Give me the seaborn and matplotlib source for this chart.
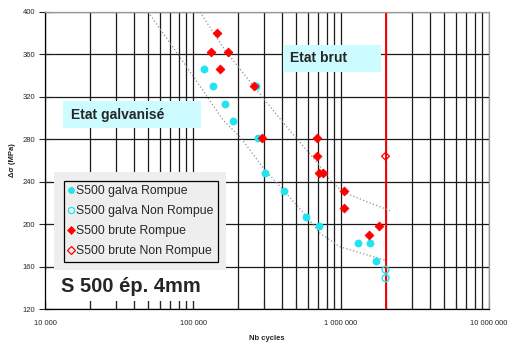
import matplotlib
matplotlib.use("Agg")
import matplotlib.pyplot as plt
from matplotlib.patches import Rectangle
from matplotlib.lines import Line2D
import seaborn as sns
import pandas as pd

# ---------------- data ----------------
galva_rompue_N = [118000, 135800, 165000, 186000, 265000, 276000, 305000, 412000,
                  580000, 710000, 1297000, 1571000, 1715000]
galva_rompue_S = [346, 330, 313, 297.5, 330, 281, 248, 231, 206.5, 198, 182, 182, 165.5]

galva_nonrompue_N = [2000000, 2000000]
galva_nonrompue_S = [157, 149]

brute_rompue_N = [144500, 132300, 171600, 152900, 257000, 294000, 685000, 685000,
                  710000, 751000, 1052000, 1052000, 1815000, 1553000]
brute_rompue_S = [380, 362, 362, 346, 330, 281, 281, 264.5, 248, 248, 231, 215, 198, 190]

brute_nonrompue_N = [2000000]
brute_nonrompue_S = [264]

# trend curves
curve_brut_N = [111400, 164400, 254000, 405000, 685000, 843000, 1032000, 1493000, 2143000]
curve_brut_S = [400, 364, 331, 296, 258.6, 241.6, 230.3, 221.2, 212.7]
curve_galva_N = [49700, 90600, 159500, 208000, 306000, 407000, 586000, 721000, 984000, 1652000, 1981000]
curve_galva_S = [400, 348.4, 298.2, 282.2, 251, 232.2, 207, 191.4, 178.7, 169.3, 166.1]

limit_N = 2000000

series_labels = ["S500 galva Rompue", "S500 galva Non Rompue",
                 "S500 brute Rompue", "S500 brute Non Rompue"]
x_ticks = [1e4, 1e5, 1e6, 1e7]
x_ticklabels = ["10 000", "100 000", "1 000 000", "10 000 000"]
y_ticks = [120, 160, 200, 240, 280, 320, 360, 400]
x_label = "Nb cycles"
y_label = "Δσ (MPa)"
title_galva = "Etat galvanisé"
title_brut = "Etat brut"
caption = "S 500 ép. 4mm"

# ---------------- figure ----------------
sns.set_style("white")
plt.rcParams["font.family"] = ["Liberation Sans", "DejaVu Sans"]

W, H = 510, 343
fig = plt.figure(figsize=(W / 100, H / 100), dpi=100)
L, R, T, B = 45, 489, 12, 309
ax = fig.add_axes([L / W, 1 - B / H, (R - L) / W, (B - T) / H])

def ax_x(px):
    return (px - L) / (R - L)

def ax_y(py):
    return (B - py) / (B - T)

ax.set_xscale("log")
ax.set_xlim(1e4, 1e7)
ax.set_ylim(120, 400)
ax.set_axisbelow(True)

cyan = "#22e4ee"
red = "#ff0000"

df_gr = pd.DataFrame({"N": galva_rompue_N, "S": galva_rompue_S})
df_gn = pd.DataFrame({"N": galva_nonrompue_N, "S": galva_nonrompue_S})
df_br = pd.DataFrame({"N": brute_rompue_N, "S": brute_rompue_S})
df_bn = pd.DataFrame({"N": brute_nonrompue_N, "S": brute_nonrompue_S})
df_cb = pd.DataFrame({"N": curve_brut_N, "S": curve_brut_S})
df_cg = pd.DataFrame({"N": curve_galva_N, "S": curve_galva_S})

# red limit line
ax.axvline(limit_N, color=red, lw=1.4, zorder=2)

# dotted trend curves
sns.lineplot(data=df_cb, x="N", y="S", ax=ax, sort=False, estimator=None,
             color="#909090", lw=0.9, linestyle=(0, (1, 1.8)), zorder=2)
sns.lineplot(data=df_cg, x="N", y="S", ax=ax, sort=False, estimator=None,
             color="#909090", lw=0.9, linestyle=(0, (1, 1.8)), zorder=2)

# points
sns.scatterplot(data=df_gr, x="N", y="S", ax=ax, marker="o", s=32, color=cyan,
                edgecolor=cyan, linewidth=0, zorder=3)
sns.scatterplot(data=df_gn, x="N", y="S", ax=ax, marker="o", s=24, facecolor="none",
                edgecolor=cyan, linewidth=1.0, zorder=3)
sns.scatterplot(data=df_br, x="N", y="S", ax=ax, marker="D", s=20, color=red,
                edgecolor=red, linewidth=0.6, zorder=4)
sns.scatterplot(data=df_bn, x="N", y="S", ax=ax, marker="D", s=16, facecolor="none",
                edgecolor=red, linewidth=0.9, zorder=4)

# grid
ax.grid(True, which="major", axis="both", color="#1a1a1a", lw=0.9)
ax.grid(True, which="minor", axis="x", color="#1a1a1a", lw=0.9)

ax.set_xticks(x_ticks)
ax.set_xticklabels(x_ticklabels)
ax.set_yticks(y_ticks)
ax.set_yticklabels([str(v) for v in y_ticks])
ax.tick_params(axis="x", which="both", direction="in", length=6, width=0.8,
               labelsize=5.5, pad=8, bottom=True)
ax.tick_params(axis="x", which="minor", labelbottom=False)
ax.tick_params(axis="y", which="major", direction="inout", length=8, width=0.8,
               labelsize=5.5, pad=3, left=True)
ax.set_xlabel(x_label, fontsize=5.5, fontweight="bold", labelpad=6)
ax.set_ylabel(y_label, fontsize=5.5, fontweight="bold")
ax.yaxis.set_label_coords(ax_x(16), 0.5)

for s in ["left", "bottom"]:
    ax.spines[s].set_color("black")
    ax.spines[s].set_linewidth(0.9)
for s in ["top", "right"]:
    ax.spines[s].set_color("#999999")
    ax.spines[s].set_linewidth(0.9)

# legend background & caption background
ax.add_patch(Rectangle((ax_x(54), ax_y(270)), ax_x(226) - ax_x(54), ax_y(172) - ax_y(270),
                       transform=ax.transAxes, facecolor="#eeeeee", edgecolor="none", zorder=1.5))
ax.add_patch(Rectangle((ax_x(45.6), ax_y(301)), ax_x(226) - ax_x(45.6), ax_y(270) - ax_y(301),
                       transform=ax.transAxes, facecolor="white", edgecolor="none", zorder=1.5))

handles = [
    Line2D([], [], marker="o", ls="none", color=cyan, markersize=5, markeredgewidth=0),
    Line2D([], [], marker="o", ls="none", markerfacecolor="none", markeredgecolor=cyan,
           markersize=4.5, markeredgewidth=0.9),
    Line2D([], [], marker="D", ls="none", color=red, markersize=4, markeredgewidth=0.5),
    Line2D([], [], marker="D", ls="none", markerfacecolor="none", markeredgecolor=red,
           markersize=3.8, markeredgewidth=0.9),
]
leg = ax.legend(handles, series_labels, loc="upper left",
                bbox_to_anchor=(ax_x(64), ax_y(181)), borderaxespad=0,
                frameon=True, fancybox=False, edgecolor="black", facecolor="#eeeeee",
                framealpha=1, fontsize=8.8, handlelength=0.5, handletextpad=0.15,
                labelspacing=0.66, borderpad=0.35)
leg.get_frame().set_linewidth(0.9)
leg.set_zorder(6)

# text boxes
light_cyan = "#ccfcff"
ax.add_patch(Rectangle((ax_x(63), ax_y(128)), ax_x(201) - ax_x(63), ax_y(101) - ax_y(128),
                       transform=ax.transAxes, facecolor=light_cyan, edgecolor="none", zorder=5))
ax.text(ax_x(71), ax_y(114.5), title_galva, transform=ax.transAxes, fontsize=10,
        fontweight="bold", va="center", ha="left", zorder=6)
ax.add_patch(Rectangle((ax_x(283), ax_y(72)), ax_x(381) - ax_x(283), ax_y(45) - ax_y(72),
                       transform=ax.transAxes, facecolor=light_cyan, edgecolor="none", zorder=5))
ax.text(ax_x(290), ax_y(58.5), title_brut, transform=ax.transAxes, fontsize=10,
        fontweight="bold", va="center", ha="left", zorder=6)
ax.text(ax_x(61), ax_y(286), caption, transform=ax.transAxes, fontsize=14.5,
        fontweight="bold", va="center", ha="left", zorder=6)

fig.savefig("out.png", dpi=100)
